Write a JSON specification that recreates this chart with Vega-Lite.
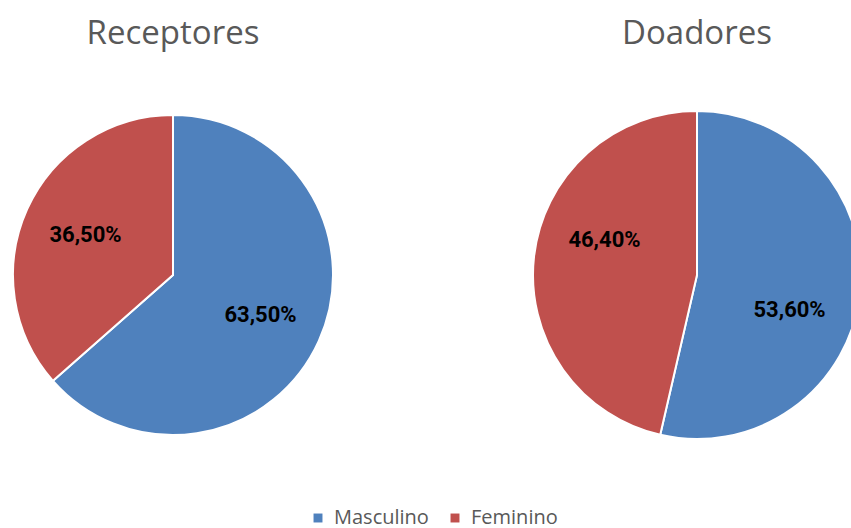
{
  "$schema": "https://vega.github.io/schema/vega-lite/v6.json",
  "padding": {"left": 0, "top": 18, "right": 0, "bottom": 0},
  "background": "white",
  "datasets": {
    "rows": [
      {"grupo": "Receptores", "sexo": "Masculino", "valor": 63.5, "rotulo": "63,50%"},
      {"grupo": "Receptores", "sexo": "Feminino", "valor": 36.5, "rotulo": "36,50%"},
      {"grupo": "Doadores", "sexo": "Masculino", "valor": 53.6, "rotulo": "53,60%"},
      {"grupo": "Doadores", "sexo": "Feminino", "valor": 46.4, "rotulo": "46,40%"}
    ]
  },
  "spacing": 183,
  "resolve": {"scale": {"color": "shared"}},
  "hconcat": [
    {
      "width": 346,
      "height": 434,
      "title": {"text": "Receptores"},
      "data": {"name": "rows"},
      "transform": [{"filter": "datum.grupo === 'Receptores'"}],
      "encoding": {
        "theta": {"field": "valor", "type": "quantitative", "stack": true},
        "order": {"field": "sexo", "sort": "descending"}
      },
      "layer": [
        {
          "mark": {"type": "arc", "outerRadius": 160, "stroke": "white", "strokeWidth": 2},
          "encoding": {
            "color": {
              "field": "sexo", "type": "nominal",
              "scale": {"domain": ["Masculino", "Feminino"], "range": ["#4F81BD", "#C0504D"]},
              "legend": {"orient": "bottom", "title": null}
            }
          }
        },
        {
          "mark": {"type": "text", "radius": 96, "font": "Roboto", "fontWeight": "bold", "fontSize": 22, "fill": "black"},
          "encoding": {"detail": {"field": "sexo"}, "text": {"field": "rotulo"}}
        }
      ]
    },
    {
      "width": 328,
      "height": 434,
      "title": {"text": "Doadores"},
      "data": {"name": "rows"},
      "transform": [{"filter": "datum.grupo === 'Doadores'"}],
      "encoding": {
        "theta": {"field": "valor", "type": "quantitative", "stack": true},
        "order": {"field": "sexo", "sort": "descending"}
      },
      "layer": [
        {
          "mark": {"type": "arc", "outerRadius": 164, "stroke": "white", "strokeWidth": 2},
          "encoding": {
            "color": {
              "field": "sexo", "type": "nominal",
              "scale": {"domain": ["Masculino", "Feminino"], "range": ["#4F81BD", "#C0504D"]},
              "legend": {"orient": "bottom", "title": null}
            }
          }
        },
        {
          "mark": {"type": "text", "radius": 99, "thetaOffset": 0.25, "font": "Roboto", "fontWeight": "bold", "fontSize": 22, "fill": "black"},
          "encoding": {"detail": {"field": "sexo"}, "text": {"field": "rotulo"}}
        }
      ]
    }
  ],
  "config": {
    "view": {"stroke": null},
    "title": {"fontSize": 33, "font": "Open Sans", "fontWeight": "normal", "color": "#595959", "offset": 7, "anchor": "middle"},
    "legend": {
      "layout": {"bottom": {"anchor": "middle"}},
      "symbolType": "square", "symbolSize": 80, "symbolStrokeWidth": 0,
      "labelFontSize": 20, "labelFont": "Open Sans", "labelColor": "#595959", "labelOffset": 6,
      "columnPadding": 16, "direction": "horizontal", "offset": 16
    }
  }
}
